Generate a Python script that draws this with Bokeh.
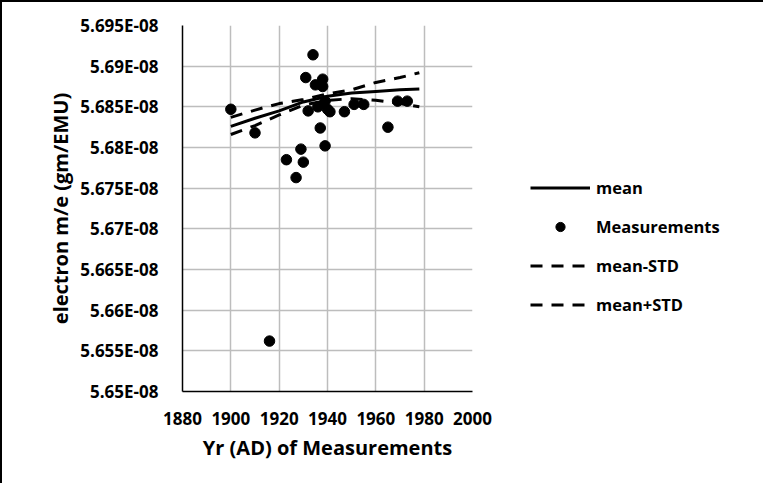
from bokeh.plotting import figure
from bokeh.models import (Range1d, FixedTicker, CustomJSTickFormatter, Legend, LegendItem,
                          InlineStyleSheet)
from bokeh.embed import file_html
from bokeh.resources import INLINE

# ---- data ----
meas_year = [1900, 1910, 1916, 1923, 1927, 1929, 1930, 1931, 1932, 1934, 1935, 1936,
             1937, 1938, 1938, 1939, 1939, 1940, 1941, 1947, 1951, 1955, 1965, 1969, 1973]
meas_val = [5.6847e-8, 5.6818e-8, 5.6562e-8, 5.6785e-8, 5.6763e-8, 5.6798e-8, 5.6782e-8,
            5.6886e-8, 5.6845e-8, 5.6914e-8, 5.6877e-8, 5.6850e-8, 5.6824e-8, 5.6884e-8,
            5.6875e-8, 5.6802e-8, 5.6857e-8, 5.6847e-8, 5.6844e-8, 5.6844e-8, 5.6853e-8,
            5.6853e-8, 5.6825e-8, 5.6857e-8, 5.6857e-8]

line_year = [1900, 1910, 1920, 1930, 1940, 1950, 1960, 1970, 1978]
mean_val = [5.6826e-8, 5.6836e-8, 5.6845e-8, 5.6856e-8, 5.6863e-8, 5.6867e-8, 5.6869e-8,
            5.6871e-8, 5.6872e-8]
upper_val = [5.6837e-8, 5.6846e-8, 5.6854e-8, 5.6859e-8, 5.6866e-8, 5.6871e-8, 5.6880e-8,
             5.6886e-8, 5.6892e-8]
lower_val = [5.6816e-8, 5.6827e-8, 5.6840e-8, 5.6852e-8, 5.6858e-8, 5.6860e-8, 5.6858e-8,
             5.6854e-8, 5.6850e-8]

x_ticks = [1880, 1900, 1920, 1940, 1960, 1980, 2000]
y_ticks = [5.65e-8, 5.655e-8, 5.66e-8, 5.665e-8, 5.67e-8, 5.675e-8, 5.68e-8, 5.685e-8,
           5.69e-8, 5.695e-8]

FONT = "Open Sans"

p = figure(width=743, height=481, output_backend="svg", toolbar_location=None,
           x_range=Range1d(1880, 2000), y_range=Range1d(5.65e-8, 5.695e-8),
           frame_width=290, frame_height=366,
           min_border_left=180, min_border_top=23, min_border_right=273, min_border_bottom=92)
p.background_fill_color = "white"
p.border_fill_color = "white"
p.outline_line_color = None

p.stylesheets = [InlineStyleSheet(css="""
:host { border-left: 2px solid black; border-top: 2px solid black;
        border-right: 2px solid #d9d9d9; }
""")]

p.xaxis.ticker = FixedTicker(ticks=x_ticks)
p.yaxis.ticker = FixedTicker(ticks=y_ticks)
p.yaxis.formatter = CustomJSTickFormatter(code="""
const m = tick * 1e8;
return (Math.round(m * 1000) / 1000).toString() + "E-08";
""")

for ax in (p.xaxis[0], p.yaxis[0]):
    ax.axis_line_color = "black"
    ax.axis_line_width = 1.5
    ax.major_tick_line_color = None
    ax.minor_tick_line_color = None
    ax.major_label_text_font = FONT
    ax.major_label_text_font_style = "bold"
    ax.major_label_text_font_size = "17px"
    ax.major_label_text_color = "black"
    ax.axis_label_text_font = FONT
    ax.axis_label_text_font_style = "bold"
    ax.axis_label_text_font_size = "20px"
    ax.axis_label_text_color = "black"

p.xaxis.axis_label = "Yr (AD) of Measurements"
p.yaxis.axis_label = "electron m/e (gm/EMU)"
p.xaxis.major_label_standoff = 14
p.yaxis.major_label_standoff = 18
p.xaxis.axis_label_standoff = 6
p.yaxis.axis_label_standoff = 3

p.grid.grid_line_color = "#bdbdbd"
p.grid.grid_line_width = 1.5

r_mean = p.line(line_year, mean_val, line_color="black", line_width=3)
r_meas = p.scatter(meas_year, meas_val, size=10.5, fill_color="black", line_color="black")
r_low = p.line(line_year, lower_val, line_color="black", line_width=3, line_dash="12 9")
r_up = p.line(line_year, upper_val, line_color="black", line_width=3, line_dash="12 9")

legend = Legend(items=[LegendItem(label="mean", renderers=[r_mean]),
                       LegendItem(label="Measurements", renderers=[r_meas]),
                       LegendItem(label="mean-STD", renderers=[r_low]),
                       LegendItem(label="mean+STD", renderers=[r_up])],
                location=(58, 75))
legend.glyph_width = 60
legend.glyph_height = 23
legend.label_height = 23
legend.spacing = 16
legend.label_standoff = 6
legend.padding = 0
legend.margin = 0
legend.border_line_color = None
legend.background_fill_alpha = 0
legend.label_text_font = FONT
legend.label_text_font_style = "bold"
legend.label_text_font_size = "16.5px"
legend.label_text_color = "black"
p.add_layout(legend, "right")

open("out.html", "w").write(file_html(p, INLINE))
